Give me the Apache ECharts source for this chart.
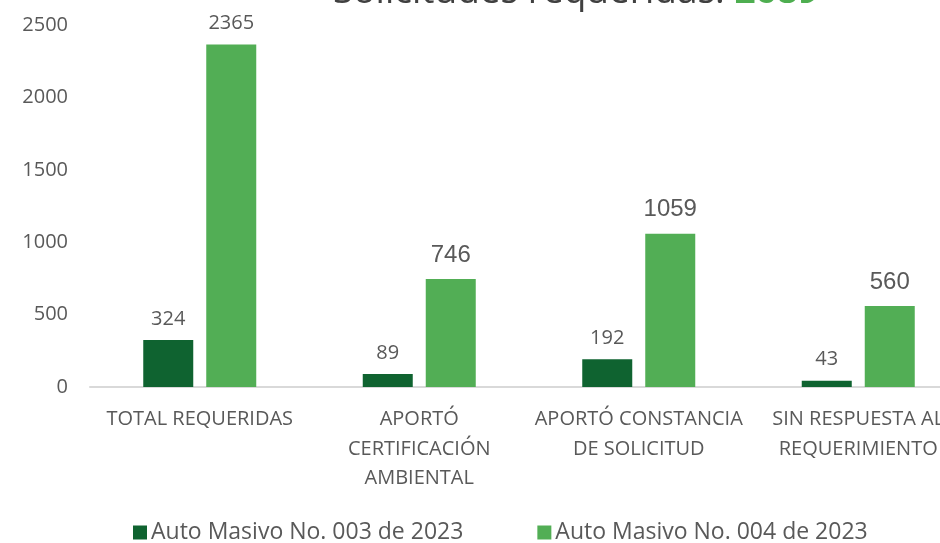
<!DOCTYPE html>
<html><head><meta charset="utf-8">
<script src="https://cdn.jsdelivr.net/npm/echarts@6/dist/echarts.min.js"></script>
<style>html,body{margin:0;padding:0;background:#fff;overflow:hidden}#c{width:968px;height:543px}</style>
</head><body><div id="c"></div>
<script>
const categories = ['TOTAL REQUERIDAS', 'APORTÓ\nCERTIFICACIÓN\nAMBIENTAL', 'APORTÓ CONSTANCIA\nDE SOLICITUD', 'SIN RESPUESTA AL\nREQUERIMIENTO'];
const seriesNames = ['Auto Masivo No. 003 de 2023', 'Auto Masivo No. 004 de 2023'];
const auto003 = [324, 89, 192, 43];
const auto004 = [2365, 746, 1059, 560];
const titleText = 'Solicitudes requeridas: ';
const titleTotal = '2689';

const FONT = '"Open Sans", "Noto Sans", sans-serif';
const NARROW = '"Liberation Sans Narrow", "Liberation Sans", sans-serif';
const chart = echarts.init(document.getElementById('c'));
chart.setOption({
  animation: false,
  title: {
    left: 328, top: -31,
    text: '{a|' + titleText + '}{b|' + titleTotal + '}',
    textStyle: {
      fontWeight: 'normal',
      rich: {
        a: { fontFamily: FONT, fontSize: 37, fontWeight: 'normal', color: '#404040', lineHeight: 37 },
        b: { fontFamily: FONT, fontSize: 37, fontWeight: 'bold', color: '#4EAE50', lineHeight: 37 }
      }
    }
  },
  legend: {
    top: 516, left: 128, itemGap: 74, itemWidth: 14, itemHeight: 14,
    icon: 'rect',
    textStyle: { fontFamily: FONT, fontSize: 23, color: '#595959', padding: [0, 0, 0, -1] },
    data: seriesNames
  },
  grid: { left: 90, right: 0, top: 25, height: 362, containLabel: false },
  xAxis: {
    type: 'category', data: categories,
    axisLine: { lineStyle: { color: '#d9d9d9', width: 2 } },
    axisTick: { show: false },
    axisLabel: { interval: 0, margin: 18, fontFamily: FONT, fontSize: 20, color: '#595959', lineHeight: 29.5 }
  },
  yAxis: {
    type: 'value', min: 0, max: 2500, interval: 500,
    axisLine: { show: false }, axisTick: { show: false }, splitLine: { show: false },
    axisLabel: { margin: 22, fontFamily: FONT, fontSize: 20, color: '#595959', formatter: v => String(v) }
  },
  series: [
    {
      name: seriesNames[0], type: 'bar', data: auto003, barWidth: 50, barGap: '26%',
      itemStyle: { color: '#0F6330' },
      label: { show: true, position: 'top', distance: 11, fontFamily: FONT, fontSize: 20, color: '#595959' }
    },
    {
      name: seriesNames[1], type: 'bar', barWidth: 50, barGap: '26%',
      data: auto004.map((v, i) => i === 0 ? v : { value: v, label: { fontFamily: NARROW, fontSize: 24, distance: 12 } }),
      itemStyle: { color: '#52AE55' },
      label: { show: true, position: 'top', distance: 11, fontFamily: FONT, fontSize: 20, color: '#595959' }
    }
  ]
});
</script></body></html>
